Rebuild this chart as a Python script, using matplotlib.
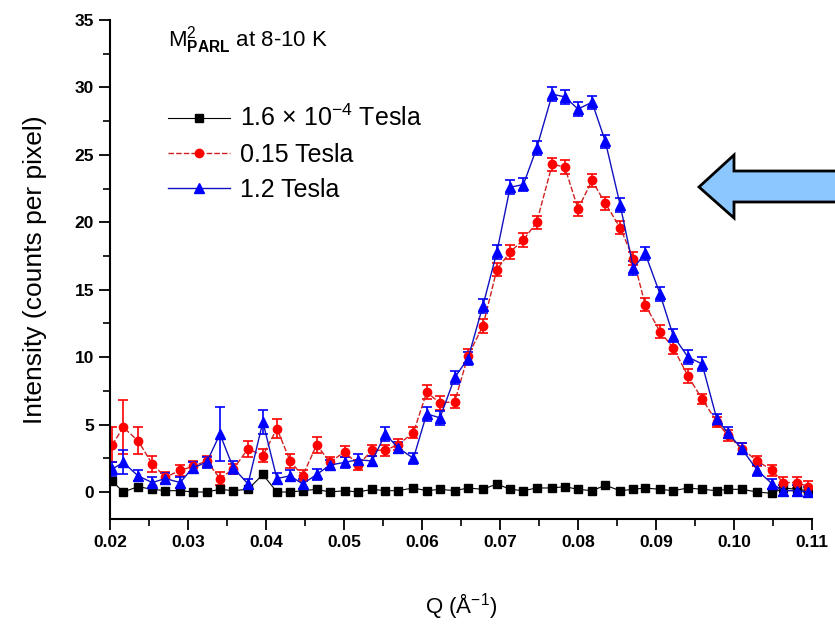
import matplotlib
matplotlib.use("Agg")
import matplotlib.pyplot as plt
from matplotlib.patches import Polygon
from matplotlib.ticker import MultipleLocator

plt.rcParams['font.family'] = ['Liberation Sans', 'DejaVu Sans']
plt.rcParams['mathtext.fontset'] = 'custom'
plt.rcParams['mathtext.rm'] = 'Liberation Sans'
plt.rcParams['mathtext.bf'] = 'Liberation Sans:bold'

# scattering vector Q (1/Angstrom)
q = [0.0203, 0.0217, 0.0236, 0.0254, 0.0271, 0.0290, 0.0306, 0.0324, 0.0341, 0.0358,
     0.0377, 0.0396, 0.0414, 0.0431, 0.0447, 0.0465, 0.0482, 0.0501, 0.0518, 0.0536,
     0.0553, 0.0569, 0.0589, 0.0606, 0.0623, 0.0642, 0.0659, 0.0678, 0.0696, 0.0713,
     0.0730, 0.0747, 0.0767, 0.0783, 0.0800, 0.0818, 0.0835, 0.0854, 0.0871, 0.0886,
     0.0905, 0.0922, 0.0941, 0.0959, 0.0978, 0.0992, 0.1010, 0.1030, 0.1049, 0.1063,
     0.1081, 0.1095]

# 1.6e-4 Tesla
i_low = [0.8, 0.0, 0.4, 0.2, 0.1, 0.1, 0.0, 0.0, 0.2, 0.1,
         0.2, 1.3, 0.0, 0.0, 0.1, 0.2, 0.0, 0.1, 0.0, 0.2,
         0.1, 0.1, 0.3, 0.1, 0.2, 0.1, 0.3, 0.2, 0.6, 0.2,
         0.1, 0.3, 0.3, 0.4, 0.2, 0.1, 0.5, 0.1, 0.2, 0.3,
         0.2, 0.1, 0.3, 0.2, 0.1, 0.2, 0.2, 0.0, -0.1, 0.3,
         0.2, 0.1]

# 0.15 Tesla
i_mid = [3.5, 4.8, 3.8, 2.1, 1.1, 1.6, 1.9, 2.3, 1.0, 1.7,
         3.2, 2.7, 4.7, 2.3, 1.2, 3.5, 2.2, 3.0, 2.0, 3.1,
         3.1, 3.5, 4.4, 7.4, 6.6, 6.7, 10.1, 12.3, 16.5, 17.8,
         18.7, 20.0, 24.3, 24.1, 21.0, 23.1, 21.4, 19.6, 17.3, 13.9,
         11.9, 10.7, 8.6, 6.9, 5.2, 4.2, 3.2, 2.3, 1.6, 0.7,
         0.7, 0.4]
err_mid = [1.3, 2.0, 1.0, 0.6, 0.4, 0.4, 0.4, 0.4, 0.5, 0.4,
           0.6, 0.5, 0.7, 0.5, 0.4, 0.6, 0.4, 0.4, 0.4, 0.4,
           0.4, 0.4, 0.4, 0.5, 0.5, 0.5, 0.5, 0.5, 0.5, 0.5,
           0.5, 0.5, 0.5, 0.5, 0.5, 0.5, 0.5, 0.5, 0.5, 0.5,
           0.5, 0.5, 0.5, 0.4, 0.4, 0.4, 0.4, 0.4, 0.4, 0.4,
           0.4, 0.4]

# 1.2 Tesla
i_high = [1.7, 2.2, 1.2, 0.7, 1.0, 0.7, 1.8, 2.2, 4.3, 1.8,
          0.6, 5.2, 1.0, 1.2, 0.6, 1.3, 2.0, 2.2, 2.4, 2.3,
          4.3, 3.3, 2.5, 5.8, 5.5, 8.5, 9.9, 13.8, 17.8, 22.6,
          22.8, 25.5, 29.5, 29.3, 28.4, 28.9, 26.0, 21.3, 16.6, 17.7,
          14.7, 11.6, 10.0, 9.5, 5.4, 4.4, 3.2, 1.6, 0.6, 0.1,
          0.1, 0.0]
err_high = [0.5, 0.9, 0.4, 0.4, 0.4, 0.4, 0.4, 0.4, 2.0, 0.5,
            0.4, 0.9, 0.4, 0.4, 0.4, 0.4, 0.4, 0.4, 0.4, 0.4,
            0.5, 0.4, 0.4, 0.5, 0.5, 0.5, 0.5, 0.5, 0.5, 0.5,
            0.5, 0.5, 0.5, 0.5, 0.5, 0.5, 0.5, 0.5, 0.5, 0.5,
            0.5, 0.5, 0.5, 0.5, 0.4, 0.4, 0.4, 0.4, 0.4, 0.4,
            0.4, 0.4]

x_ticks = [0.02, 0.03, 0.04, 0.05, 0.06, 0.07, 0.08, 0.09, 0.10, 0.11]
x_tick_labels = ['0.02', '0.03', '0.04', '0.05', '0.06', '0.07', '0.08', '0.09', '0.10', '0.11']
y_ticks = [0, 5, 10, 15, 20, 25, 30, 35]

fig = plt.figure(figsize=(8.35, 6.25), dpi=100)
ax = fig.add_axes([0.1317, 0.1696, 0.8408, 0.7984])

ax.errorbar(q, i_mid, yerr=err_mid, fmt='none', ecolor='red', elinewidth=1.2, capsize=3.5, capthick=1.2)
ax.errorbar(q, i_high, yerr=err_high, fmt='none', ecolor='blue', elinewidth=1.2, capsize=3.5, capthick=1.2)

l1, = ax.plot(q, i_low, color='black', lw=0.8, marker='s', ms=5.5, mec='black', mfc='black',
              label=r'1.6 $\times$ 10$^{-4}$ Tesla')
l2, = ax.plot(q, i_mid, color='#d02020', lw=1.0, ls=(0, (4, 1.5)), marker='o', ms=6,
              mec='red', mfc='red', label='0.15 Tesla')
l3, = ax.plot(q, i_high, color='#1010c0', lw=1.0, marker='^', ms=7, mec='blue', mfc='blue',
              label='1.2 Tesla')

ax.set_xlim(0.02, 0.11)
ax.set_ylim(-2, 35)
ax.set_xticks(x_ticks)
ax.set_xticklabels(x_tick_labels)
ax.set_yticks(y_ticks)
ax.xaxis.set_minor_locator(MultipleLocator(0.005))
ax.yaxis.set_minor_locator(MultipleLocator(2.5))

for side in ['top', 'right']:
    ax.spines[side].set_visible(False)
for side in ['left', 'bottom']:
    ax.spines[side].set_linewidth(1.5)

ax.tick_params(which='major', direction='out', length=8, width=1.3, labelsize=12.5)
ax.tick_params(which='minor', direction='out', length=5, width=1.2)
for lab in ax.get_xticklabels() + ax.get_yticklabels():
    lab.set_fontweight('bold')

ax.set_ylabel('Intensity (counts per pixel)', fontsize=19, labelpad=20)
ax.set_xlabel(r'Q (Å$^{-1}$)', fontsize=16, labelpad=30)

ax.text(0.083, 0.96, r'M$^{2}_{\bf PARL}$ at 8-10 K', transform=ax.transAxes,
        fontsize=16, va='center', ha='left')

ax.legend(handles=[l1, l2, l3], loc='upper left', bbox_to_anchor=(0.068, 0.85),
          frameon=False, fontsize=18, handlelength=2.5, handletextpad=0.4,
          labelspacing=0.45, borderaxespad=0)

# pointer arrow on the right side
W, H = 835, 625
pts = [(699, 187), (734, 155), (734, 171), (840, 171), (840, 202), (734, 202), (734, 218)]
arrow = Polygon([(x / W, 1 - y / H) for x, y in pts], closed=True, transform=fig.transFigure,
                facecolor='#8cc8ff', edgecolor='black', lw=2, clip_on=False)
fig.patches.append(arrow)

fig.savefig('out.png', dpi=100)
